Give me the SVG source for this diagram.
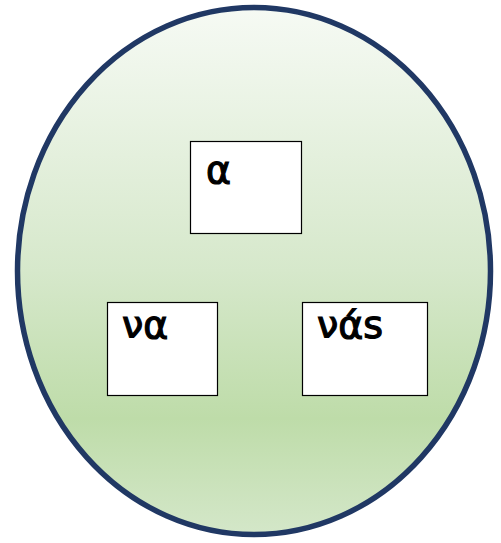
<svg xmlns="http://www.w3.org/2000/svg" width="501" height="543" viewBox="0 0 501 543">
<defs>
<linearGradient id="g" x1="0" y1="0" x2="0" y2="1">
<stop offset="0" stop-color="#f6faf4"/>
<stop offset="0.5" stop-color="#d6e8cb"/>
<stop offset="0.78" stop-color="#bedca9"/>
<stop offset="1" stop-color="#d4e7c9"/>
</linearGradient>
<style>
.box{fill:#ffffff;stroke:#000000;stroke-width:1.2}
.t{font-family:"DejaVu Sans","Noto Sans",sans-serif;font-size:38px;fill:#000000;stroke:#000000;stroke-width:1.2}
</style>
</defs>
<g id="circle">
<ellipse cx="254" cy="271" rx="236.5" ry="263.5" fill="url(#g)" stroke="#203864" stroke-width="5.5"/>
</g>
<g id="node-a">
<rect class="box" x="190.5" y="141.5" width="111" height="92"/>
<text class="t" x="206" y="183">α</text>
</g>
<g id="node-na">
<rect class="box" x="107.5" y="302.5" width="110" height="93"/>
<text class="t" x="122" y="338">να</text>
</g>
<g id="node-nas">
<rect class="box" x="302.5" y="302.5" width="125" height="93"/>
<text class="t" x="317" y="338">νάs</text>
</g>
<g id="connectors"/>
</svg>
